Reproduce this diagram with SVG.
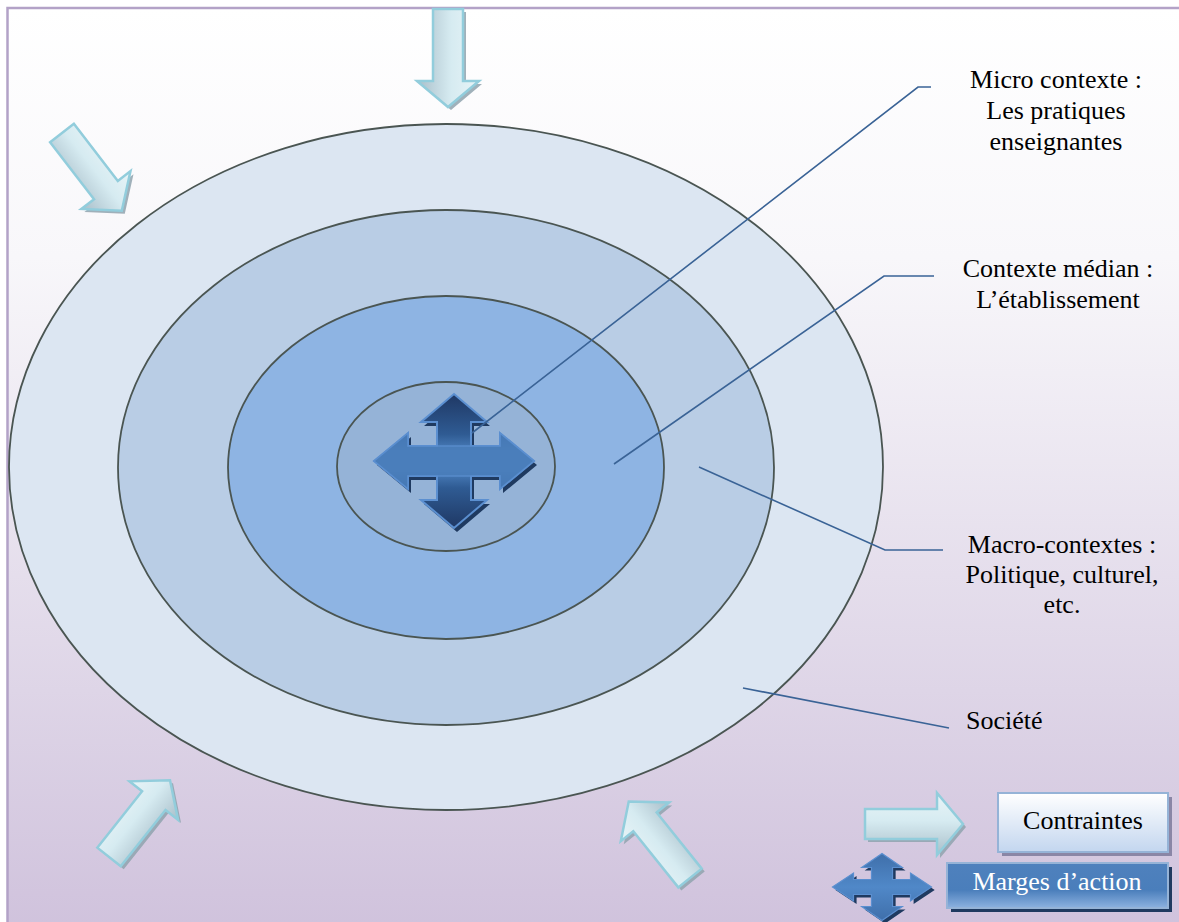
<svg xmlns="http://www.w3.org/2000/svg" xmlns:xlink="http://www.w3.org/1999/xlink" width="1179" height="922" viewBox="0 0 1179 922">
<style>
.ring{stroke:#4A5552;stroke-width:1.8}
.lbl{font-size:26px;fill:#000;text-anchor:middle}
.lead{fill:none;stroke:#3A6396;stroke-width:1.6}
.arr{fill:url(#gArr);stroke:#92CDDC;stroke-width:2.5;stroke-linejoin:miter}
.arrsh{fill:#8FA3AE;opacity:0.85}
.quad{fill:url(#gQuad);stroke:#5B8FD0;stroke-width:2;vector-effect:non-scaling-stroke}
.quadsh{fill:#1F3A60}
</style>
<defs>
<linearGradient id="gBg" x1="0" y1="0" x2="0" y2="1">
<stop offset="0" stop-color="#FFFFFF"/>
<stop offset="0.25" stop-color="#F8F7FA"/>
<stop offset="1" stop-color="#CBBCD9"/>
</linearGradient>
<linearGradient id="gArr" gradientUnits="userSpaceOnUse" x1="0" y1="-31" x2="0" y2="31">
<stop offset="0" stop-color="#E8F4F7"/>
<stop offset="0.45" stop-color="#D6EBF1"/>
<stop offset="1" stop-color="#A9BEC9"/>
</linearGradient>
<linearGradient id="gQuad" gradientUnits="userSpaceOnUse" x1="0" y1="-67" x2="0" y2="67">
<stop offset="0" stop-color="#1F3864"/>
<stop offset="0.3" stop-color="#2F5B93"/>
<stop offset="0.42" stop-color="#4A7EBB"/>
<stop offset="0.58" stop-color="#4A7EBB"/>
<stop offset="0.7" stop-color="#2F5B93"/>
<stop offset="1" stop-color="#1F3864"/>
</linearGradient>
<linearGradient id="gQuad2" gradientUnits="userSpaceOnUse" x1="0" y1="-67" x2="0" y2="67">
<stop offset="0" stop-color="#3F6FAA"/>
<stop offset="0.5" stop-color="#5088C8"/>
<stop offset="1" stop-color="#3F6FAA"/>
</linearGradient>
<linearGradient id="gBox1" x1="0" y1="0" x2="0" y2="1">
<stop offset="0" stop-color="#FFFFFF"/>
<stop offset="1" stop-color="#C3D6EF"/>
</linearGradient>
<linearGradient id="gBox2" x1="0" y1="0" x2="0" y2="1">
<stop offset="0" stop-color="#4F81BD"/>
<stop offset="0.6" stop-color="#4A7EBB"/>
<stop offset="1" stop-color="#8DB2E0"/>
</linearGradient>
<path id="arrow" d="M0,-15 L72,-15 L72,-31 L98,0 L72,31 L72,15 L0,15 Z"/>
<path id="quadp" d="M0,-67 L33,-39 L17,-39 L17,-15 L46,-15 L46,-28 L80,0 L46,28 L46,15 L17,15 L17,39 L33,39 L0,67 L-33,39 L-17,39 L-17,15 L-46,15 L-46,28 L-80,0 L-46,-28 L-46,-15 L-17,-15 L-17,-39 L-33,-39 Z"/>
</defs>

<rect x="0" y="0" width="1179" height="922" fill="#FFFFFF"/>
<rect id="frame" x="7.5" y="8" width="1200" height="1000" fill="url(#gBg)" stroke="#B3A2C7" stroke-width="2.5"/>

<g id="societe"><ellipse class="ring" cx="446" cy="467" rx="437" ry="343" fill="#DCE6F2"/></g>
<g id="macro"><ellipse class="ring" cx="446" cy="467.5" rx="328" ry="257.5" fill="#B9CDE5"/></g>
<g id="median"><ellipse class="ring" cx="446" cy="467.5" rx="218" ry="171.5" fill="#8EB4E3"/></g>
<g id="micro"><ellipse class="ring" cx="446" cy="466.5" rx="109" ry="84.5" fill="#95B3D7"/></g>

<g id="center-quad-arrow" transform="translate(454,461)">
<use xlink:href="#quadp" class="quadsh" transform="translate(3,4)"/>
<use xlink:href="#quadp" class="quad"/>
<path d="M-80,0 L-46,-28 L-46,-15 L46,-15 L46,-28 L80,0 L46,28 L46,15 L-46,15 L-46,28 Z" fill="#4A7EBB" opacity="0.85" stroke="#5B8FD0" stroke-width="1.5"/>
</g>

<g id="connectors">
<polyline class="lead" points="472,433 918,87 931,87"/>
<polyline class="lead" points="614,464 884,276 934,276"/>
<polyline class="lead" points="699,467 885,550 943,550"/>
<polyline class="lead" points="743,688 949,728"/>
</g>

<g font-family="'Liberation Serif', 'Times New Roman', serif">
<g id="label-micro">
<text class="lbl" x="1056" y="88">Micro contexte :</text>
<text class="lbl" x="1056" y="119">Les pratiques</text>
<text class="lbl" x="1056" y="150">enseignantes</text>
</g>
<g id="label-median">
<text class="lbl" x="1058" y="277">Contexte médian :</text>
<text class="lbl" x="1058" y="308">L’établissement</text>
</g>
<g id="label-macro">
<text class="lbl" x="1062" y="553">Macro-contextes :</text>
<text class="lbl" x="1062" y="583">Politique, culturel,</text>
<text class="lbl" x="1062" y="613">etc.</text>
</g>
<g id="label-societe">
<text class="lbl" x="966" y="729" style="text-anchor:start">Société</text>
</g>
</g>

<g id="arrow-top" transform="translate(448,9) rotate(90)">
<use xlink:href="#arrow" class="arrsh" transform="translate(3,-3)"/>
<use xlink:href="#arrow" class="arr"/>
</g>
<g id="arrow-topleft" transform="translate(62,133) rotate(52.4)">
<use xlink:href="#arrow" class="arrsh" transform="rotate(-52.4) translate(3,3) rotate(52.4)"/>
<use xlink:href="#arrow" class="arr"/>
</g>
<g id="arrow-bottomleft" transform="translate(109,857) rotate(-51.5)">
<use xlink:href="#arrow" class="arrsh" transform="rotate(51.5) translate(3,3) rotate(-51.5)"/>
<use xlink:href="#arrow" class="arr"/>
</g>
<g id="arrow-bottommid" transform="translate(690,878) rotate(-128.7)">
<use xlink:href="#arrow" class="arrsh" transform="rotate(128.7) translate(3,3) rotate(-128.7)"/>
<use xlink:href="#arrow" class="arr"/>
</g>

<g id="legend-contraintes">
<g transform="translate(865,824)">
<use xlink:href="#arrow" class="arrsh" transform="translate(3,3)"/>
<use xlink:href="#arrow" class="arr"/>
</g>
<rect x="1002" y="797" width="170" height="59" fill="#8A86A6"/>
<rect x="998" y="793" width="170" height="59" fill="url(#gBox1)" stroke="#95B3D7" stroke-width="2"/>
<text class="lbl" x="1083" y="829" font-family="'Liberation Serif', 'Times New Roman', serif">Contraintes</text>
</g>

<g id="legend-marges">
<g transform="translate(882,887) scale(0.62,0.5)">
<use xlink:href="#quadp" class="quadsh" transform="translate(5,6)"/>
<use xlink:href="#quadp" class="quad" style="fill:url(#gQuad2)"/>
</g>
<rect x="951" y="867" width="221" height="45" fill="#1F3A60"/>
<rect x="947" y="863" width="221" height="45" fill="url(#gBox2)" stroke="#95B3D7" stroke-width="2"/>
<text class="lbl" x="1057" y="890" font-family="'Liberation Serif', 'Times New Roman', serif" style="fill:#FFFFFF">Marges d’action</text>
</g>
</svg>
